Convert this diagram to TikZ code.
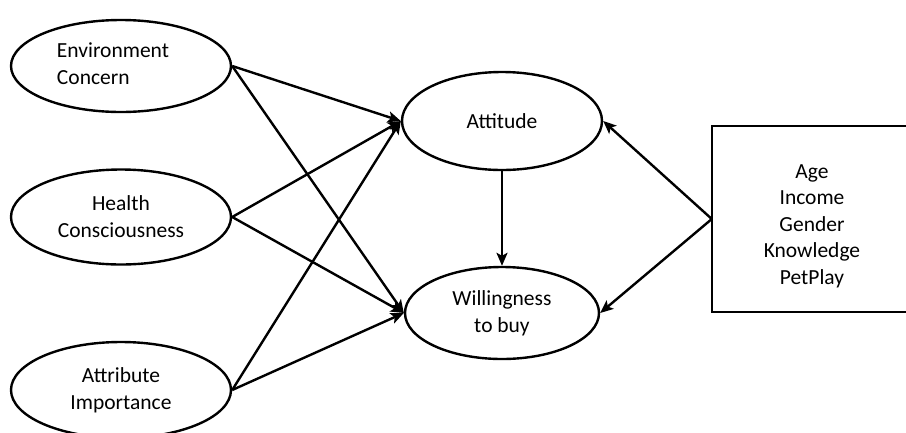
\documentclass[tikz,border=0pt]{standalone}
\usepackage{fontspec}
\setmainfont{Carlito}
\usetikzlibrary{shapes.geometric,arrows.meta}
\begin{document}
\begin{tikzpicture}[x=1pt,y=-1pt,
  lv/.style={ellipse,draw,line width=2.4pt,inner sep=0pt,align=center,
    font=\fontsize{21.5}{27}\selectfont},
  modbox/.style={rectangle,inner sep=0pt},
  boxline/.style={line width=2.4pt,line cap=rect},
  modtext/.style={align=center,inner sep=0pt,font=\fontsize{21.5}{26.5}\selectfont},
  arr/.style={line width=2.4pt,-{Stealth[length=13pt,width=11pt,inset=3pt]}}]
\useasboundingbox (0,0) rectangle (906,432);
\node[lv,minimum width=220,minimum height=92] (env) at (121,66) {};
\node[font=\fontsize{21.5}{27}\selectfont,align=left] (envt) at (113,64) {Environment\\Concern};
\node[lv,minimum width=220,minimum height=95] (hc) at (121,217) {Health\\Consciousness};
\node[lv,minimum width=220,minimum height=96] (ai) at (121,390) {Attribute\\Importance};
\node[lv,minimum width=200,minimum height=98] (att) at (502,121) {Attitude};
\node[lv,minimum width=194,minimum height=92] (wtb) at (502,313) {Willingness\\to buy};
\node[modbox,minimum width=200,minimum height=186] (mod) at (812,219) {};
\node[modtext] (modt) at (812,226) {Age\\Income\\Gender\\Knowledge\\PetPlay};
\draw[boxline] (mod.north east) -- (mod.north west) -- (mod.south west) -- (mod.south east);
\draw[arr] (env.east) -- (att.west);
\draw[arr] (env.east) -- (wtb.west);
\draw[arr] (hc.east) -- (att.west);
\draw[arr] (hc.east) -- (wtb.west);
\draw[arr] (ai.east) -- (att.west);
\draw[arr] (ai.east) -- (wtb.west);
\draw[arr] (att.south) -- (wtb.north);
\draw[arr] (mod.west) -- (att.east);
\draw[arr] (mod.west) -- (wtb.east);
\end{tikzpicture}
\end{document}
